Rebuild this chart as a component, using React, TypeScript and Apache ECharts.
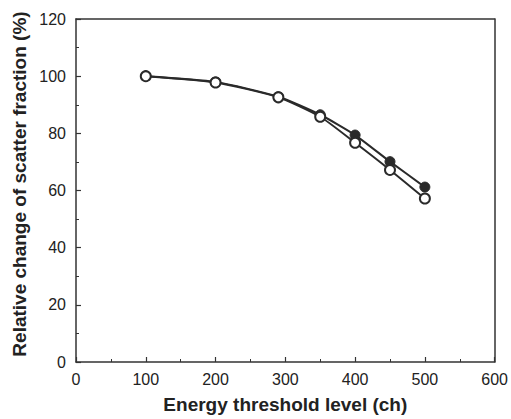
import React, { useEffect, useRef } from "react";
import * as echarts from "echarts";

const thresholds = [100, 200, 290, 350, 400, 450, 500];
const filledValues = [100, 98, 92.8, 86.5, 79.4, 70.1, 61.2];
const openValues = [100, 97.8, 92.6, 85.8, 76.7, 67.2, 57.2];

const xTitle = "Energy threshold level (ch)";
const yTitle = "Relative change of scatter fraction (%)";

export default function App() {
  const ref = useRef<HTMLDivElement>(null);
  useEffect(() => {
    if (!ref.current) return;
    const chart = echarts.init(ref.current, null, { renderer: "svg" });
    const font = "Liberation Sans, Arial, sans-serif";
    const lineColor = "#333";
    chart.setOption({
      animation: false,
      backgroundColor: "#fff",
      grid: { left: 76, right: 15, top: 19, bottom: 54, containLabel: false },
      graphic: [
        {
          type: "text",
          x: 19,
          y: 184,
          rotation: Math.PI / 2,
          style: {
            text: yTitle,
            fontFamily: font,
            fontSize: 19,
            fontWeight: "bold",
            fill: "#222",
            align: "center",
            verticalAlign: "middle",
          },
        },
      ],
      xAxis: [
        {
          type: "value",
          min: 0,
          max: 600,
          interval: 100,
          name: xTitle,
          nameLocation: "middle",
          nameGap: 33,
          nameTextStyle: { fontFamily: font, fontSize: 19, fontWeight: "bold", color: "#222" },
          axisLine: { show: true, onZero: false, lineStyle: { color: lineColor, width: 1.5 } },
          axisTick: { show: true, inside: true, length: 5, lineStyle: { color: lineColor, width: 1.2 } },
          minorTick: { show: true, splitNumber: 2, length: 3, lineStyle: { color: lineColor, width: 1 } },
          axisLabel: { fontFamily: font, fontSize: 16, color: "#222", margin: 9 },
          splitLine: { show: false },
        },
        {
          type: "value",
          min: 0,
          max: 600,
          position: "top",
          axisLine: { show: true, onZero: false, lineStyle: { color: lineColor, width: 1.5 } },
          axisTick: { show: false },
          axisLabel: { show: false },
          splitLine: { show: false },
        },
      ],
      yAxis: [
        {
          type: "value",
          min: 0,
          max: 120,
          interval: 20,
          axisLine: { show: true, onZero: false, lineStyle: { color: lineColor, width: 1.5 } },
          axisTick: { show: true, inside: true, length: 5, lineStyle: { color: lineColor, width: 1.2 } },
          minorTick: { show: true, splitNumber: 2, length: 3, lineStyle: { color: lineColor, width: 1 } },
          axisLabel: { fontFamily: font, fontSize: 16, color: "#222", margin: 10 },
          splitLine: { show: false },
        },
        {
          type: "value",
          min: 0,
          max: 120,
          position: "right",
          axisLine: { show: true, onZero: false, lineStyle: { color: lineColor, width: 1.5 } },
          axisTick: { show: false },
          axisLabel: { show: false },
          splitLine: { show: false },
        },
      ],
      series: [
        {
          type: "line",
          data: thresholds.map((t, i) => [t, filledValues[i]]),
          symbol: "circle",
          symbolSize: 10,
          smooth: 0.2,
          lineStyle: { color: "#2a2a2a", width: 2 },
          itemStyle: { color: "#2a2a2a", borderColor: "#2a2a2a", borderWidth: 1 },
          z: 2,
        },
        {
          type: "line",
          data: thresholds.map((t, i) => [t, openValues[i]]),
          symbol: "circle",
          symbolSize: 10,
          smooth: 0.2,
          lineStyle: { color: "#2a2a2a", width: 2 },
          itemStyle: { color: "#fff", borderColor: "#2a2a2a", borderWidth: 2 },
          z: 3,
        },
      ],
    });
    return () => chart.dispose();
  }, []);
  return <div ref={ref} style={{ width: 511, height: 419, position: "absolute", left: 0, top: 0 }} />;
}
